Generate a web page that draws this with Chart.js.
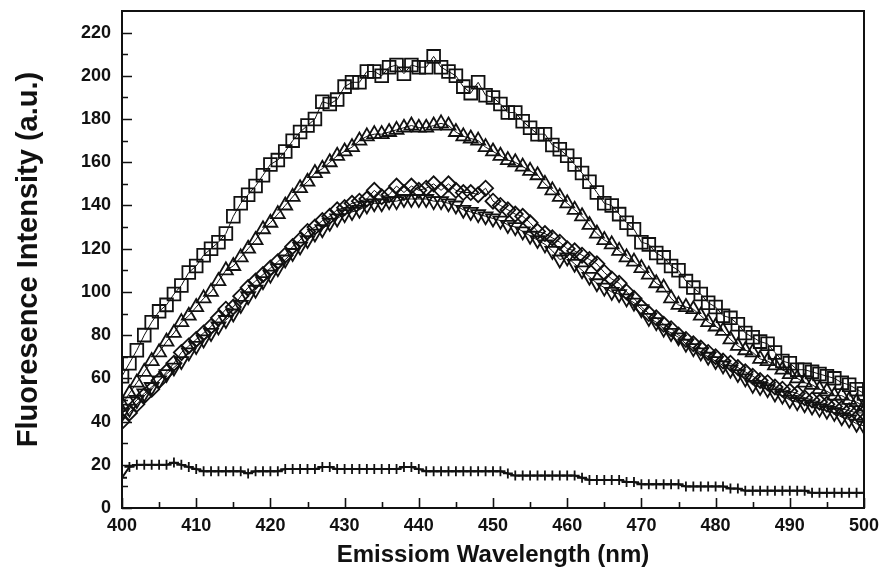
<!DOCTYPE html>
<html>
<head>
<meta charset="utf-8">
<script src="https://cdn.jsdelivr.net/npm/chart.js@4.4.1/dist/chart.umd.min.js"></script>
<style>
  html, body { margin: 0; padding: 0; background: #fff; }
  #wrap { width: 887px; height: 582px; position: relative; }
</style>
</head>
<body>
<div id="wrap"><canvas id="chart"></canvas></div>
<script>
// wavelengths (nm)
var wavelengths = [400,401,402,403,404,405,406,407,408,409,410,411,412,413,414,415,416,417,418,419,
    420,421,422,423,424,425,426,427,428,429,430,431,432,433,434,435,436,437,438,439,
    440,441,442,443,444,445,446,447,448,449,450,451,452,453,454,455,456,457,458,459,
    460,461,462,463,464,465,466,467,468,469,470,471,472,473,474,475,476,477,478,479,
    480,481,482,483,484,485,486,487,488,489,490,491,492,493,494,495,496,497,498,499,500];

var squareSeries = [61,67,73,80,86,91,94,99,103,109,112,117,120,123,127,135,141,145,149,154,
    159,161,165,170,174,177,180,188,187,189,195,197,197,202,202,200,204,205,201,205,
    204,204,209,204,202,200,195,192,197,191,190,187,183,183,179,176,173,173,168,166,
    163,159,155,151,146,141,140,136,132,129,123,122,118,116,112,110,105,102,99,95,
    93,89,88,85,81,79,77,76,72,68,67,64,64,63,62,61,60,58,57,55,53];

var upTriSeries = [48,53,58,63,68,72,77,81,86,89,93,97,100,105,110,112,116,120,124,129,
    132,136,140,144,148,151,155,157,160,163,165,167,170,172,173,173,174,175,176,177,
    176,176,177,178,177,174,172,171,170,167,165,163,161,160,158,156,154,150,147,144,
    141,138,135,131,127,124,122,119,116,114,111,108,104,102,97,94,93,92,89,86,
    84,82,78,75,73,72,69,68,66,64,62,60,58,57,55,54,52,52,50,49,47];

var diamondSeries = [40,44,48,52,55,59,63,67,72,75,78,81,84,88,92,93,98,102,105,108,
    111,114,117,121,124,128,130,133,135,138,139,141,142,143,147,144,145,149,146,149,
    147,148,150,147,150,147,146,146,145,148,142,140,138,136,135,132,128,127,125,123,
    120,119,117,115,113,109,106,104,100,97,93,90,88,85,83,80,78,76,74,72,
    70,68,67,65,63,61,59,58,56,55,54,53,51,50,49,48,47,46,45,44,44];

var downTriSeries = [44,46,50,53,56,59,62,65,68,72,75,78,81,84,87,90,94,98,101,105,
    108,111,115,118,121,124,127,129,132,134,136,137,138,140,141,141,142,142,143,143,
    143,143,142,142,141,140,138,137,136,135,134,133,131,130,128,126,124,122,119,115,
    116,113,110,107,104,102,100,99,97,95,92,88,86,83,81,79,76,74,72,70,
    68,66,64,62,60,57,56,55,53,52,50,49,48,47,46,45,44,42,41,39,38];

var crossSeries = [14,19,20,20,20,20,20,21,20,19,18,17,17,17,17,17,17,16,17,17,
    17,17,18,18,18,18,18,19,19,18,18,18,18,18,18,18,18,18,19,19,
    18,17,17,17,17,17,17,17,17,17,17,17,16,15,15,15,15,15,15,15,
    15,15,14,13,13,13,13,13,12,12,11,11,11,11,11,11,10,10,10,10,
    10,10,9,9,8,8,8,8,8,8,8,8,8,7,7,7,7,7,7,7,7];

var xTickLabels = [400,410,420,430,440,450,460,470,480,490,500];
var yTickLabels = [0,20,40,60,80,100,120,140,160,180,200,220];

function toPoints(values){
    var pts = [];
    for(var i=0; i<wavelengths.length; i++){
        pts.push({x: wavelengths[i], y: values[i]});
    }
    return pts;
}

function makeSet(label, values, style, radius, rotation, lineWidth){
    return {
        label: label,
        data: toPoints(values),
        borderColor: '#111',
        backgroundColor: '#fff',
        borderWidth: lineWidth,
        pointStyle: style,
        pointRadius: radius,
        pointRotation: rotation,
        pointBorderWidth: 1.8,
        pointBorderColor: '#111',
        pointBackgroundColor: 'rgba(255,255,255,0)',
        showLine: true,
        tension: 0
    };
}

// frame + inward major/minor ticks, positioned through the chart's own scales
var frameTicks = {
    id: 'frameTicks',
    afterDraw: function(chart){
        var ctx = chart.ctx, a = chart.chartArea;
        var xs = chart.scales.x, ys = chart.scales.y;
        ctx.save();
        ctx.strokeStyle = '#111';
        ctx.lineWidth = 2;
        ctx.strokeRect(a.left, a.top, a.right - a.left, a.bottom - a.top);
        ctx.lineWidth = 1.6;
        ctx.beginPath();
        for(var v=0; v<=220; v+=10){
            var py = Math.round(ys.getPixelForValue(v)) + 0.5;
            var len = (v % 20 === 0) ? 10 : 6;
            ctx.moveTo(a.left, py);
            ctx.lineTo(a.left + len, py);
        }
        for(var w=400; w<=500; w+=5){
            var px = Math.round(xs.getPixelForValue(w)) + 0.5;
            var l2 = (w % 10 === 0) ? 10 : 6;
            ctx.moveTo(px, a.bottom);
            ctx.lineTo(px, a.bottom - l2);
        }
        ctx.stroke();
        ctx.restore();
    }
};

var tickFont = {family: 'Liberation Sans, Arial, sans-serif', size: 18, weight: 'bold'};

var chart = new Chart(document.getElementById('chart'), {
    type: 'scatter',
    data: {
        datasets: [
            makeSet('square', squareSeries, 'rect', 9, 0, 1),
            makeSet('up triangle', upTriSeries, 'triangle', 8, 0, 1),
            makeSet('diamond', diamondSeries, 'rectRot', 7.5, 0, 1),
            makeSet('down triangle', downTriSeries, 'triangle', 8, 180, 1),
            makeSet('cross', crossSeries, 'cross', 5, 0, 2)
        ]
    },
    plugins: [frameTicks],
    options: {
        responsive: true,
        maintainAspectRatio: false,
        animation: false,
        layout: { padding: { top: 11, right: 23, left: 0, bottom: 0 } },
        plugins: {
            legend: { display: false },
            tooltip: { enabled: false }
        },
        scales: {
            x: {
                type: 'linear',
                min: 400,
                max: 500,
                grid: { display: false, drawTicks: false },
                border: { display: false },
                afterBuildTicks: function(scale){
                    scale.ticks = xTickLabels.map(function(v){ return {value: v}; });
                },
                afterFit: function(scale){ scale.height = 74; scale.paddingLeft = 0; scale.paddingRight = 0; },
                ticks: { color: '#111', font: tickFont, padding: 7, maxRotation: 0 },
                title: {
                    display: true,
                    text: 'Emissiom Wavelength (nm)',
                    color: '#111',
                    font: {family: 'Liberation Sans, Arial, sans-serif', size: 24, weight: 'bold'},
                    padding: { top: 2, bottom: 12 }
                }
            },
            y: {
                min: 0,
                max: 230,
                grid: { display: false, drawTicks: false },
                border: { display: false },
                afterBuildTicks: function(scale){
                    scale.ticks = yTickLabels.map(function(v){ return {value: v}; });
                },
                afterFit: function(scale){ scale.width = 122; scale.paddingTop = 0; scale.paddingBottom = 0; },
                ticks: { color: '#111', font: tickFont, padding: 11 },
                title: {
                    display: true,
                    text: 'Fluoresence Intensity (a.u.)',
                    color: '#111',
                    font: {family: 'Liberation Sans, Arial, sans-serif', size: 29, weight: 'bold'},
                    padding: { top: 12, bottom: 0 }
                }
            }
        }
    }
});
</script>
</body>
</html>
